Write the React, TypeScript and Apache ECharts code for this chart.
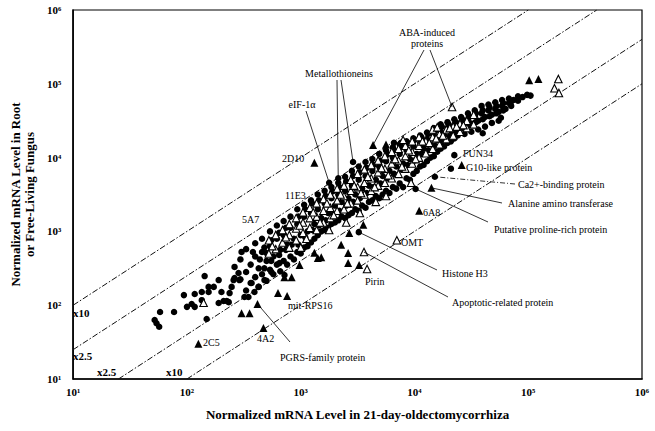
import React, { useEffect, useRef } from 'react';
import * as echarts from 'echarts';

const supDigits = ['⁰', '¹', '²', '³', '⁴', '⁵', '⁶'];
const axisMin = 10;
const axisMax = 1000000;

// sparse low-expression circles
const circlesLow: number[][] = [
  [52, 63], [58, 81], [57, 51], [54, 57], [77, 81], [94, 137], [100, 95], [110, 104], [117, 95], [117, 142],
  [135, 117], [143, 248], [149, 65], [155, 177], [155, 151], [135, 151], [172, 177], [190, 219], [190, 107],
  [201, 151], [210, 114], [224, 114], [233, 110], [237, 146], [247, 177], [257, 219], [262, 234], [262, 330],
  [284, 273], [289, 219], [302, 527], [320, 129], [347, 129], [370, 200], [392, 151], [426, 177], [480, 219],
  [500, 510], [552, 282], [650, 372], [720, 257],
];

// dense band circles
const circlesBand: number[][] = [
  [295, 417], [295, 224], [331, 575], [331, 282], [331, 158], [363, 355], [363, 200],
  [398, 692], [398, 457], [398, 240], [427, 316], [427, 178], [457, 794], [457, 525], [457, 263],
  [501, 398], [501, 214], [537, 1000], [537, 631], [537, 302], [575, 457], [575, 263],
  [617, 1202], [617, 794], [617, 355], [661, 562], [661, 288], [708, 1380], [708, 891], [708, 398],
  [759, 661], [759, 355], [813, 1585], [813, 1122], [813, 457], [871, 794], [871, 417],
  [933, 1995], [933, 1259], [933, 525], [1000, 891], [1000, 501], [1072, 2291], [1072, 1585], [1072, 603],
  [1148, 1000], [1148, 631], [1230, 2630], [1230, 1778], [1230, 708], [1318, 1259], [1318, 794],
  [1413, 3162], [1413, 1995], [1413, 891], [1514, 1514], [1514, 1000], [1622, 3548], [1622, 2399], [1622, 1047],
  [1738, 1778], [1738, 1122], [1862, 3981], [1862, 2818], [1862, 1259], [1995, 2239], [1995, 1318],
  [2138, 4571], [2138, 3162], [2138, 1413], [2291, 2512], [2291, 1585], [2455, 5495], [2455, 3548], [2455, 1514],
  [2630, 2818], [2630, 1660], [2818, 6607], [2818, 4169], [2818, 1778], [3020, 3162], [3020, 1995],
  [3236, 7586], [3236, 5012], [3236, 1905], [3467, 3802], [3467, 2239], [3715, 8710], [3715, 5623], [3715, 2089],
  [3981, 4169], [3981, 2512], [4266, 9550], [4266, 6607], [4266, 2630], [4571, 5012], [4571, 3020],
  [4898, 11220], [4898, 7586], [4898, 2818], [5248, 5623], [5248, 3162], [5623, 12590], [5623, 8913], [5623, 3548],
  [6026, 6607], [6026, 3311], [6457, 13800], [6457, 10000], [6457, 3981], [6918, 7586], [6918, 3802],
  [7413, 15140], [7413, 11220], [7413, 4467], [7943, 8318], [7943, 3981], [8511, 16600], [8511, 12590], [8511, 5248],
  [9120, 9550], [9120, 5012], [9772, 18200], [9772, 14130], [9772, 6026], [10470, 11220], [10470, 6607],
  [11220, 19950], [11220, 15850], [11220, 7586], [12020, 13180], [12020, 7943], [12880, 21880], [12880, 17780], [12880, 8913],
  [13800, 15140], [13800, 10000], [14790, 25120], [14790, 19950], [14790, 10470], [15850, 17380], [15850, 12020],
  [16980, 28180], [16980, 22910], [16980, 13180], [18200, 19950], [18200, 14130], [19500, 30200], [19500, 25120], [19500, 15850],
  [20890, 21880], [20890, 16600], [22390, 33110], [22390, 27540], [22390, 18200], [23990, 23990], [23990, 19950],
  [25700, 35480], [25700, 30200], [27540, 26300], [27540, 20890], [29510, 39810], [29510, 33110],
  [31620, 28840], [31620, 22390], [33880, 43650], [33880, 36310], [36310, 31620], [36310, 23990],
  [38900, 50120], [38900, 39810], [41690, 35480], [41690, 26300], [44670, 52480], [44670, 43650],
  [47860, 38020], [47860, 29510], [51290, 56230], [51290, 45710], [54950, 41690], [54950, 31620],
  [58880, 60260], [58880, 50120], [63100, 45710], [67610, 63100], [67610, 54950], [74130, 60260],
  [81280, 67610], [81280, 58880], [89130, 66070], [97720, 70790], [104700, 69180],
];

// further band circles lying between the columns above
const circlesBandExtra: number[][] = [
  [380, 525], [437, 417], [479, 603], [479, 316], [550, 759], [550, 398], [646, 955], [646, 479],
  [741, 1122], [741, 562], [832, 661], [955, 1585], [955, 661], [1096, 1995], [1096, 832],
  [1259, 2399], [1259, 1047], [1445, 2630], [1445, 1202], [1660, 3020], [1660, 1413], [1905, 3467], [1905, 1660],
  [2188, 3981], [2188, 1905], [2512, 4786], [2512, 2239], [2884, 5623], [2884, 2512], [3311, 6310], [3311, 2818],
  [3802, 7244], [3802, 3311], [4365, 7943], [4365, 3981], [5012, 9120], [5012, 4467], [5754, 10960], [5754, 5248],
  [6607, 12590], [6607, 6026], [7586, 14130], [7586, 6918], [8710, 15850], [8710, 7943], [10000, 17380], [10000, 9120],
  [11480, 19050], [11480, 11220], [13180, 20890], [13180, 12590], [15140, 22910], [15140, 14450], [17380, 26300], [17380, 16600],
  [19950, 28180], [19950, 19050], [22910, 30200], [22910, 22390], [26300, 33110], [26300, 25120], [30200, 36310], [30200, 27540],
  [34670, 39810], [34670, 30200], [39810, 43650], [39810, 33110], [45710, 47860], [45710, 36310], [52480, 50120], [52480, 39810],
  [60260, 54950], [60260, 43650], [70790, 57540], [70790, 50120],
];

// named / highlighted circles
const circlesNamed: number[][] = [
  [1778, 4571], [2138, 5250], [2884, 8710], [22400, 10800], [20900, 7080], [15100, 5500], [10230, 3760],
  [3240, 977], [6600, 15850], [7600, 15850], [39800, 21400], [57500, 34700],
];

const openTriangles: number[][] = [
  [525, 501], [525, 759], [603, 575], [603, 891], [692, 708], [692, 1047], [794, 603], [794, 891], [794, 1259],
  [912, 759], [912, 1096], [912, 1514], [1047, 955], [1047, 1318], [1047, 1820], [1202, 1122], [1202, 1514], [1202, 2089],
  [1380, 1047], [1380, 1585], [1380, 2399], [1585, 1318], [1585, 1905], [1585, 2754], [1820, 1514], [1820, 2089], [1820, 3162],
  [2089, 1905], [2089, 2630], [2089, 3802], [2399, 1995], [2399, 3020], [2399, 4169], [2754, 2399], [2754, 3548], [2754, 5012],
  [3162, 2630], [3162, 3981], [3162, 6026], [3631, 3162], [3631, 4571], [3631, 6918], [4169, 3548], [4169, 5248], [4169, 7943],
  [4786, 4169], [4786, 6310], [4786, 9120], [5495, 4571], [5495, 7079], [5495, 10470], [6310, 5248], [6310, 8318], [6310, 12020],
  [7244, 6026], [7244, 9120], [7244, 13180], [8318, 7079], [8318, 10470], [8318, 14450], [9550, 8318], [9550, 12020], [9550, 16600],
  [10960, 10000], [10960, 14450], [10960, 19050], [12590, 11480], [12590, 16600], [14450, 13180], [14450, 19050], [14450, 23990],
  [16600, 15140], [16600, 20890], [19050, 17780], [19050, 23990], [21880, 19950], [21880, 26300], [25120, 22390], [25120, 28840],
  [28840, 25120], [28840, 31620], [33110, 28180], [33110, 38020],
  [562, 631], [741, 832], [977, 1202], [1122, 794], [1288, 1820], [1479, 1318], [1698, 2399], [1950, 1660],
  [2239, 3162], [2570, 2399], [2951, 4169], [3388, 3311], [3890, 5495], [4467, 3981], [5129, 7244], [5888, 5754],
  [6761, 9550], [7762, 7586], [8913, 12590], [10230, 9550], [11750, 16600], [13490, 15850], [15490, 18200],
  [17780, 19950], [20420, 25120], [23440, 26300], [26920, 27540],
  [1000, 603], [1778, 1047], [2512, 1318], [3311, 1778], [4571, 2512], [5623, 3020],
  [7943, 17380], [15850, 25700], [21400, 48500], [184000, 116000], [170000, 87000], [186000, 75000],
  [7000, 760], [3600, 525], [3830, 309], [140, 108], [9330, 4570],
];

const filledTriangles: number[][] = [
  [1318, 8510], [4325, 14800], [5620, 15000], [102000, 112000], [123000, 116000], [26000, 7940], [14100, 3890],
  [11000, 1900], [2610, 510], [2610, 372], [3260, 351], [302, 78], [355, 78], [417, 104], [631, 146], [759, 133],
  [977, 351], [718, 240], [832, 240], [1413, 437], [1318, 513], [1515, 447], [470, 49], [126, 30], [2670, 955],
  [3550, 1230], [2265, 661],
];

// fold-change reference lines (y = k * x)
const foldLines = [
  { name: 'x10 up', data: [[10, 100], [100000, 1000000]] },
  { name: 'x2.5 up', data: [[10, 25], [400000, 1000000]] },
  { name: 'x2.5 down', data: [[25, 10], [1000000, 400000]] },
  { name: 'x10 down', data: [[100, 10], [1000000, 100000]] },
];

const foldLabels = [
  { text: 'x10', x: 73, y: 313 },
  { text: 'x2.5', x: 73, y: 356 },
  { text: 'x2.5', x: 97, y: 372 },
  { text: 'x10', x: 166, y: 372 },
];

const geneLabels = [
  { text: 'ABA-induced', x: 427, y: 32, align: 'center' },
  { text: 'proteins', x: 427, y: 43, align: 'center' },
  { text: 'Metallothioneins', x: 339, y: 73, align: 'center' },
  { text: 'eIF-1α', x: 302, y: 104, align: 'center' },
  { text: '2D10', x: 282, y: 158, align: 'left' },
  { text: '11E3', x: 285, y: 195, align: 'left' },
  { text: '5A7', x: 242, y: 219, align: 'left' },
  { text: 'FUN34', x: 463, y: 153, align: 'left' },
  { text: 'G10-like protein', x: 466, y: 167, align: 'left' },
  { text: 'Ca2+-binding protein', x: 518, y: 184, align: 'left' },
  { text: 'Alanine amino transferase', x: 508, y: 203, align: 'left' },
  { text: 'Putative proline-rich protein', x: 494, y: 229, align: 'left' },
  { text: '6A8', x: 423, y: 212, align: 'left' },
  { text: 'OMT', x: 401, y: 242, align: 'left' },
  { text: 'Histone H3', x: 442, y: 273, align: 'left' },
  { text: 'Pirin', x: 365, y: 281, align: 'left' },
  { text: 'Apoptotic-related protein', x: 452, y: 302, align: 'left' },
  { text: 'mit-RPS16', x: 288, y: 305, align: 'left' },
  { text: '4A2', x: 257, y: 338, align: 'left' },
  { text: '2C5', x: 203, y: 342, align: 'left' },
  { text: 'PGRS-family protein', x: 280, y: 357, align: 'left' },
];

// leader lines: from label (pixel) to a data point
const leaders = [
  { from: [424, 50], to: [4325, 14800], dashed: false },
  { from: [430, 50], to: [21400, 48500], dashed: false },
  { from: [337, 80], to: [2138, 5250], dashed: false },
  { from: [341, 80], to: [2884, 8710], dashed: false },
  { from: [306, 111], to: [1778, 4571], dashed: false },
  { from: [515, 184], to: [15100, 5500], dashed: true },
  { from: [502, 203], to: [14100, 3890], dashed: false },
  { from: [488, 222], to: [10230, 3760], dashed: false },
  { from: [437, 270], to: [3240, 977], dashed: false },
  { from: [448, 297], to: [3600, 525], dashed: false },
  { from: [290, 342], to: [417, 104], dashed: false },
];

const serif = '"Liberation Serif", "DejaVu Serif", serif';

export default function App() {
  const ref = useRef<HTMLDivElement>(null);

  useEffect(() => {
    if (!ref.current) return;
    const chart = echarts.init(ref.current, undefined, { renderer: 'svg' });
    const tickFmt = (v: number) => '10' + supDigits[Math.round(Math.log10(v))];
    const axisCommon = {
      type: 'log' as const,
      logBase: 10,
      min: axisMin,
      max: axisMax,
      splitNumber: 5,
      splitLine: { show: false },
      axisTick: { show: false },
      minorTick: { show: false },
      axisLine: { show: true, lineStyle: { color: '#000', width: 1.6 } },
      axisLabel: {
        formatter: tickFmt,
        color: '#000',
        fontFamily: serif,
        fontWeight: 'bold' as const,
        fontSize: 11,
      },
      nameLocation: 'middle' as const,
      nameTextStyle: { fontFamily: serif, fontWeight: 'bold' as const, fontSize: 13, color: '#000', lineHeight: 14 },
    };
    const dash = [6, 2, 1.5, 2];
    chart.setOption({
      animation: false,
      textStyle: { fontFamily: serif },
      grid: { left: 71, right: 13, top: 10, bottom: 52, show: true, borderColor: '#000', borderWidth: 1.2, backgroundColor: 'transparent' },
      xAxis: {
        ...axisCommon,
        name: 'Normalized mRNA Level in 21-day-oldectomycorrhiza',
        nameGap: 28,
        axisLabel: { ...axisCommon.axisLabel, margin: 7 },
      },
      yAxis: {
        ...axisCommon,
        name: 'Normalized mRNA Level in Root\nor Free-Living Fungus',
        nameGap: 36,
        nameRotate: 90,
        axisLabel: { ...axisCommon.axisLabel, margin: 12 },
      },
      series: [
        ...foldLines.map((l) => ({
          type: 'line',
          name: l.name,
          data: l.data,
          symbol: 'none',
          silent: true,
          lineStyle: { color: '#111', width: 1, type: dash },
          z: 1,
        })),
        {
          type: 'scatter',
          name: 'circles',
          data: [...circlesLow, ...circlesBand, ...circlesBandExtra, ...circlesNamed],
          symbol: 'circle',
          symbolSize: 6.5,
          itemStyle: { color: '#000', opacity: 1 },
          z: 2,
        },
        {
          type: 'scatter',
          name: 'open triangles',
          data: openTriangles,
          symbol: 'triangle',
          symbolSize: 7.5,
          itemStyle: { color: '#fff', borderColor: '#000', borderWidth: 1.1, opacity: 1 },
          z: 3,
        },
        {
          type: 'scatter',
          name: 'filled triangles',
          data: filledTriangles,
          symbol: 'triangle',
          symbolSize: 8,
          itemStyle: { color: '#000', opacity: 1 },
          z: 4,
        },
      ],
    });

    const toPx = (p: number[]) => chart.convertToPixel({ gridIndex: 0 }, p) as number[];
    const elements: any[] = [];
    leaders.forEach((l) => {
      const t = toPx(l.to);
      elements.push({
        type: 'line',
        silent: true,
        z: 10,
        shape: { x1: l.from[0], y1: l.from[1], x2: t[0], y2: t[1] },
        style: { stroke: '#000', lineWidth: 0.8, lineDash: l.dashed ? [5, 2, 1, 2] : null },
      });
    });
    geneLabels.forEach((g) => {
      elements.push({
        type: 'text',
        silent: true,
        z: 11,
        x: g.x,
        y: g.y,
        style: { text: g.text, fill: '#000', font: `10px ${serif}`, align: g.align, verticalAlign: 'middle' },
      });
    });
    foldLabels.forEach((f) => {
      elements.push({
        type: 'text',
        silent: true,
        z: 11,
        x: f.x,
        y: f.y,
        style: { text: f.text, fill: '#000', font: `bold 11px ${serif}`, align: 'left', verticalAlign: 'middle' },
      });
    });
    chart.setOption({ graphic: { elements } });

    return () => chart.dispose();
  }, []);

  return <div ref={ref} style={{ width: 655, height: 431, position: 'absolute', left: 0, top: 0 }} />;
}
